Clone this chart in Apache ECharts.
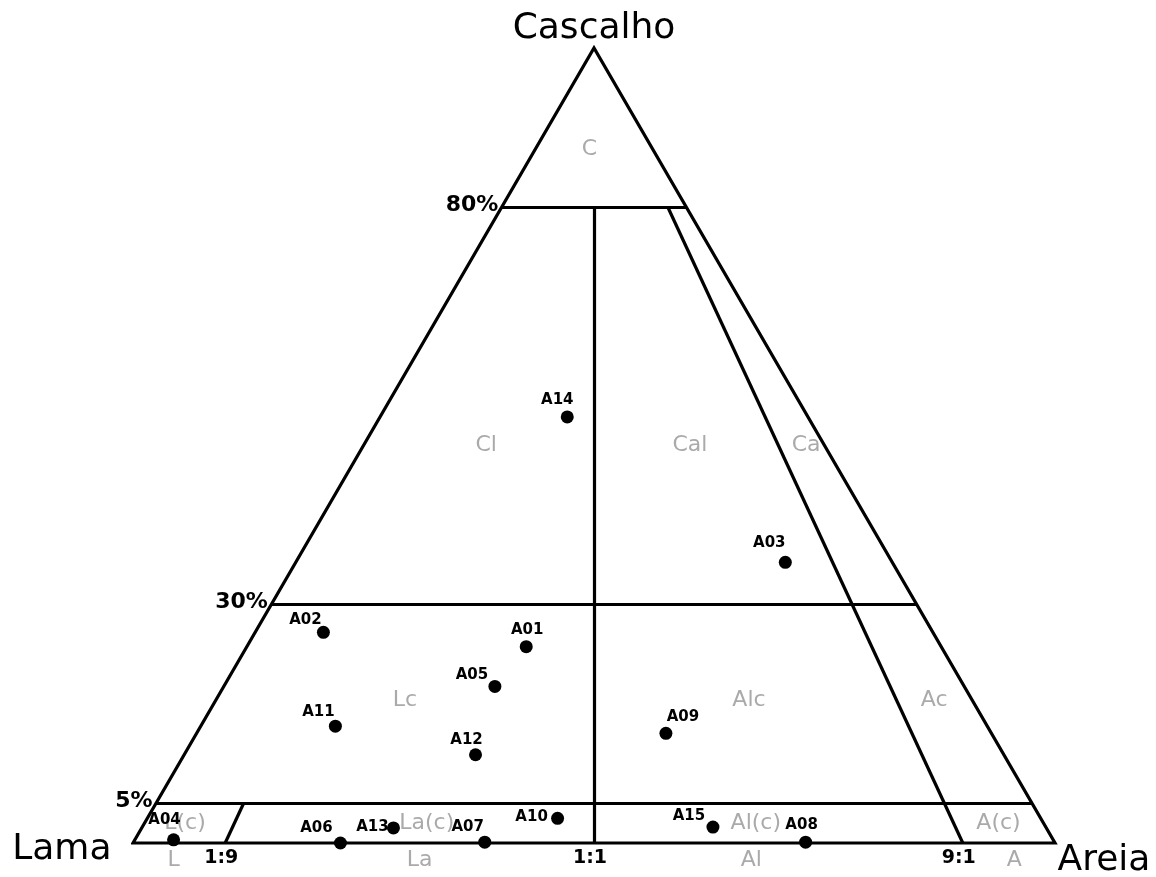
<!DOCTYPE html>
<html>
<head>
<meta charset="utf-8">
<script src="https://cdn.jsdelivr.net/npm/echarts@6/dist/echarts.min.js"></script>
<style>
  html, body { margin: 0; padding: 0; background: #fff; }
  #chart { width: 1156px; height: 877px; }
</style>
</head>
<body>
<div id="chart"></div>
<script>
// Sediment samples: gravel / sand / mud percentages
const samples = ['A01','A02','A03','A04','A05','A06','A07','A08','A09','A10','A11','A12','A13','A14','A15'];
const gravel  = [24.7, 26.5, 35.3, 0.4, 19.7, 0.0, 0.1, 0.1, 13.8, 3.1, 14.7, 11.1, 1.9, 53.6, 2.0];
const sand    = [30.3,  7.4, 53.1, 4.2, 29.4, 22.5, 38.1, 72.9, 50.9, 44.5, 14.6, 31.6, 27.3, 20.3, 61.9];
const mud     = [45.0, 66.1, 11.6, 95.4, 50.9, 77.5, 61.8, 27.0, 35.3, 52.4, 70.7, 57.3, 70.8, 26.1, 36.1];

// Folk class boundaries: gravel levels and sand:mud ratios
const gravelLevels = [80, 30, 5];
const gravelLevelLabels = ['80%', '30%', '5%'];
const sandMudRatios = [0.1, 0.5, 0.9];
const ratioLabels = ['1:9', '1:1', '9:1'];
const ratioTopGravel = [5, 80, 80];

// Class names, anchored by gravel % and sand fraction of the sand+mud part
const regionNames  = ['C', 'Cl', 'Cal', 'Ca', 'Lc', 'Alc', 'Ac', 'L(c)', 'La(c)', 'Al(c)', 'A(c)', 'L', 'La', 'Al', 'A'];
const regionGravel = [87.3, 50, 50, 50, 18, 18, 18, 2.5, 2.5, 2.5, 2.5, -2.2, -2.2, -2.2, -2.2];
const regionRatio  = [0.46, 0.266, 0.708, 0.96, 0.25, 0.705, 0.95, 0.045, 0.314, 0.68, 0.95, 0.054, 0.315, 0.667, 0.946];

// Vertex names: top, left, right
const vertexNames = ['Cascalho', 'Lama', 'Areia'];

// Sample label placement (pixel offsets from the dot)
const labelOffsets = {
  A01: [1, -17], A02: [-18, -12], A03: [-16, -19], A04: [-9, -20], A05: [-23, -11],
  A06: [-24, -15], A07: [-17, -15], A08: [-4, -17], A09: [17, -16], A10: [-26, -1],
  A11: [-17, -14], A12: [-9, -15], A13: [-21, -1], A14: [-10, -17], A15: [-24, -11]
};

const FONT = "'DejaVu Sans', sans-serif";

// Ternary (gravel %, sand ratio) -> cartesian [x in 0..1, y = gravel %]
function tern(g, r) {
  return [(1 - g / 100) * r + g / 200, g];
}

const segments = [];
gravelLevels.forEach(g => segments.push({ coords: [tern(g, 0), tern(g, 1)] }));
sandMudRatios.forEach((r, i) => segments.push({ coords: [tern(0, r), tern(ratioTopGravel[i], r)] }));

const outline = [tern(0, 0), tern(0, 1), tern(100, 0.5), tern(0, 0), tern(0, 1)];

function textSeries(data, label) {
  return {
    type: 'scatter',
    symbol: 'circle',
    symbolSize: 1,
    clip: false,
    silent: true,
    z: 4,
    itemStyle: { color: 'rgba(0,0,0,0)', opacity: 1 },
    emphasis: { disabled: true },
    label: Object.assign({ show: true, formatter: '{b}', fontFamily: FONT, textBorderWidth: 0, opacity: 1 }, label),
    data: data
  };
}

const chart = echarts.init(document.getElementById('chart'), null, { renderer: 'canvas' });

chart.setOption({
  animation: false,
  backgroundColor: '#ffffff',
  grid: { left: 133, top: 48, width: 922, height: 795, containLabel: false },
  xAxis: { type: 'value', min: 0, max: 1, show: false },
  yAxis: { type: 'value', min: 0, max: 100, show: false },
  series: [
    {
      type: 'line',
      data: outline,
      symbol: 'none',
      silent: true,
      clip: false,
      z: 1,
      lineStyle: { color: '#000', width: 3.2, join: 'miter', opacity: 1 }
    },
    {
      type: 'lines',
      coordinateSystem: 'cartesian2d',
      silent: true,
      clip: false,
      z: 1,
      lineStyle: { color: '#000', width: 3.2, opacity: 1, curveness: 0 },
      data: segments
    },
    textSeries(
      regionNames.map((n, i) => ({ name: n, value: tern(regionGravel[i], regionRatio[i]) })),
      { position: 'inside', color: '#aaaaaa', fontSize: 22 }
    ),
    textSeries(
      gravelLevels.map((g, i) => ({ name: gravelLevelLabels[i], value: tern(g, 0) })),
      { position: 'left', distance: 3, offset: [0, -2], color: '#000', fontSize: 22, fontWeight: 'bold' }
    ),
    textSeries(
      sandMudRatios.map((r, i) => ({ name: ratioLabels[i], value: tern(0, r) })),
      { position: 'inside', offset: [-4, 15], color: '#000', fontSize: 19, fontWeight: 'bold' }
    ),
    textSeries(
      [
        { name: vertexNames[0], value: tern(100, 0.5), label: { position: 'inside', offset: [0, -19] } },
        { name: vertexNames[1], value: tern(0, 0), label: { position: 'left', distance: 21, offset: [0, 7] } },
        { name: vertexNames[2], value: tern(0, 1), label: { position: 'right', distance: 2, offset: [0, 18] } }
      ],
      { color: '#000', fontSize: 36 }
    ),
    {
      type: 'scatter',
      symbol: 'circle',
      symbolSize: 13,
      clip: false,
      z: 5,
      itemStyle: { color: '#000', opacity: 1 },
      emphasis: { disabled: true },
      label: {
        show: true, position: 'inside', formatter: '{b}', color: '#000', opacity: 1,
        fontFamily: FONT, fontWeight: 'bold', fontSize: 15, textBorderWidth: 0
      },
      data: samples.map((n, i) => ({
        name: n,
        value: [(sand[i] + gravel[i] / 2) / 100, gravel[i]],
        label: { offset: labelOffsets[n] }
      }))
    }
  ]
});
</script>
</body>
</html>
